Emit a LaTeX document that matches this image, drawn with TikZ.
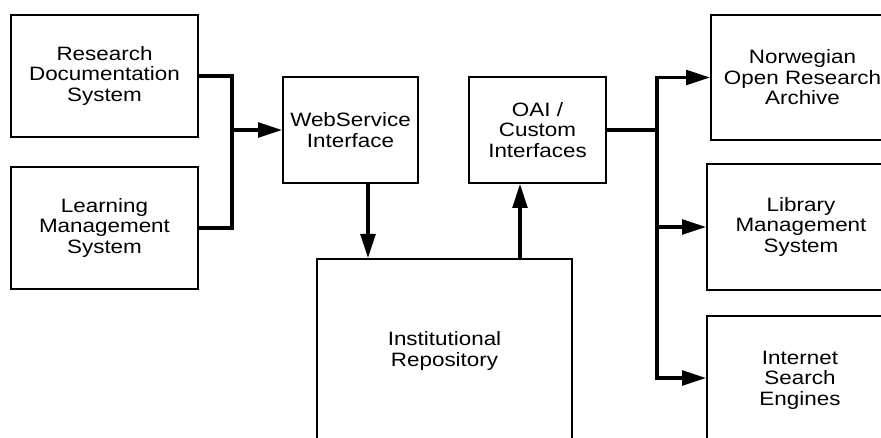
\documentclass[tikz,border=0pt]{standalone}
\usepackage{fontspec}
\setmainfont[FakeStretch=1.16]{Liberation Sans}
\usetikzlibrary{arrows.meta,calc}
\tikzset{
  box/.style={draw, line width=1.5pt, inner sep=0pt, align=center, font=\fontsize{14.5}{15.4}\selectfont},
  conn/.style={line width=2.6pt},
  arr/.style={line width=2.6pt, -{Triangle[length=18pt,width=11pt]}}
}
\begin{document}
\begin{tikzpicture}[x=0.75pt,y=-0.75pt]
\useasboundingbox (0,0) rectangle (881,438);
\fill[white] (0,0) rectangle (881,438);
\clip (0,0) rectangle (881,438);
\node[box, minimum width=140.25pt, minimum height=91.5pt] (RDS) at (104.5,76) {Research\\Documentation\\System};
\node[box, minimum width=140.25pt, minimum height=91.5pt] (LMS) at (104.5,228) {Learning\\Management\\System};
\node[box, minimum width=101.25pt, minimum height=79.5pt] (WS) at (350.5,130) {WebService\\Interface};
\node[box, minimum width=102.75pt, minimum height=79.5pt] (OAI) at (537.5,130) {OAI /\\Custom\\Interfaces};
\node[box, minimum width=191.25pt, minimum height=138pt] (IR) at (444.5,351) {Institutional\\Repository};
\node[box, minimum width=137.25pt, minimum height=93.75pt] (NORA) at (802.5,77.5) {Norwegian\\Open Research\\Archive};
\node[box, minimum width=141pt, minimum height=94.5pt] (LIB) at (801,227) {Library\\Management\\System};
\node[box, minimum width=139.5pt, minimum height=96pt] (ISE) at (800,380) {Internet\\Search\\Engines};
\coordinate (j1) at (232,130);
\coordinate (j2) at (657,130);
\coordinate (ws1) at ($(WS.south)+(17.5,0)$);
\coordinate (ir1) at ($(IR.north)+(75.5,0)$);
\draw[conn] (RDS.east) -| (j1);
\draw[conn] (LMS.east) -| (j1);
\draw[arr] (j1) -- (WS.west);
\draw[arr] (ws1) -- (ws1 |- IR.north);
\draw[arr] (ir1) -- (ir1 |- OAI.south);
\draw[conn] (OAI.east) -- (j2);
\draw[arr] (j2) |- (NORA.west);
\draw[arr] (j2) |- (LIB.west);
\draw[arr] (j2) |- ([yshift=1.5pt]ISE.west);
\end{tikzpicture}
\end{document}
